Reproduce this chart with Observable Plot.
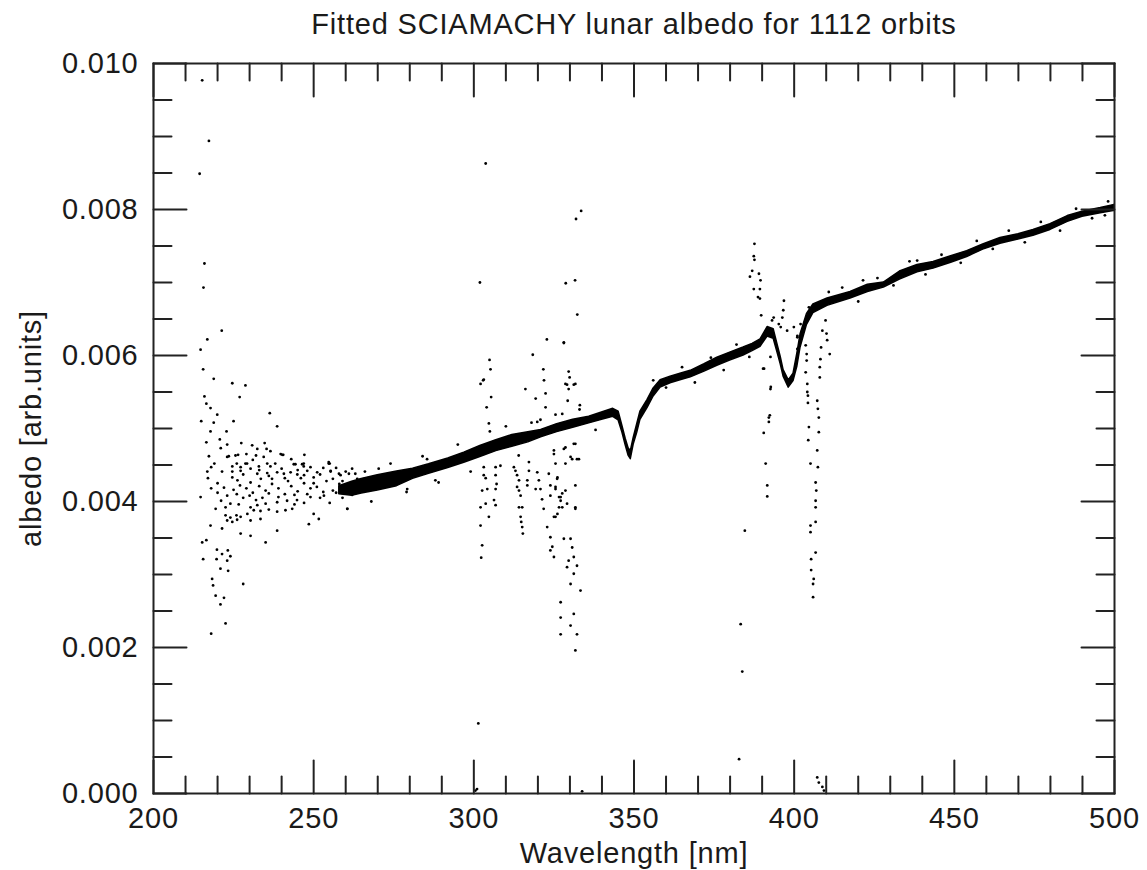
<!DOCTYPE html>
<html><head><meta charset="utf-8">
<script src="https://cdn.jsdelivr.net/npm/d3@7"></script>
<script src="https://cdn.jsdelivr.net/npm/@observablehq/plot@0.6"></script>
<style>body{margin:0;background:#fff} svg{display:block}</style>
</head><body><div id="chart"></div>
<script>
const titleText = "Fitted SCIAMACHY lunar albedo for 1112 orbits";
const xLabel = "Wavelength [nm]";
const yLabel = "albedo [arb.units]";
const xMajorTicks = [200,250,300,350,400,450,500];
const xMinorTicks = [210,220,230,240,260,270,280,290,310,320,330,340,360,370,380,390,410,420,430,440,460,470,480,490];
const yMajorTicks = [0,0.002,0.004,0.006,0.008,0.010];
const yMinorTicks = [0.0005,0.001,0.0015,0.0025,0.003,0.0035,0.0045,0.005,0.0055,0.0065,0.007,0.0075,0.0085,0.009,0.0095];

// dense band of fitted albedo: wavelength, lower edge, upper edge
const bandNm = [258,262,265,270,276,281,286,292,297,302,307,312,317,321,326,331,336,340,343.5,345.2,346.4,347.4,348.3,349.0,349.9,351,352,354.2,356,358.3,361.4,364.5,367.7,372,376,380,384.2,387,389.5,391.7,393.6,394.8,395.8,396.7,398.3,399.8,401,402,404,406,410.4,417.6,423,428,433,438.5,443.5,449,454,459,464.4,470,474.7,480,485.4,490,495.7,499.7,500];
const bandLo = [0.00410,0.00408,0.00411,0.00415,0.00421,0.00431,0.00438,0.00446,0.00453,0.00461,0.00469,0.00475,0.00481,0.00488,0.00495,0.00501,0.00507,0.00512,0.00516,0.00511,0.00494,0.00477,0.00463,0.00458,0.00478,0.00494,0.00512,0.00528,0.00543,0.00556,0.00562,0.00566,0.00570,0.00578,0.00586,0.00593,0.00600,0.00606,0.00612,0.00626,0.00623,0.00604,0.00588,0.00571,0.00556,0.00565,0.00585,0.00611,0.00642,0.00658,0.00668,0.00678,0.00687,0.00693,0.00704,0.00714,0.00719,0.00727,0.00735,0.00745,0.00753,0.00759,0.00764,0.00772,0.00783,0.00790,0.00795,0.00798,0.00798];
const bandHi = [0.00421,0.00427,0.00431,0.00436,0.00441,0.00445,0.00451,0.00459,0.00467,0.00476,0.00484,0.00491,0.00495,0.00498,0.00506,0.00512,0.00516,0.00522,0.00527,0.00523,0.00503,0.00486,0.00473,0.00469,0.00487,0.00506,0.00523,0.00539,0.00554,0.00566,0.00571,0.00575,0.00579,0.00588,0.00597,0.00604,0.00611,0.00616,0.00622,0.00639,0.00636,0.00615,0.00598,0.00580,0.00566,0.00575,0.00603,0.00629,0.00657,0.00670,0.00678,0.00687,0.00697,0.00700,0.00715,0.00724,0.00728,0.00736,0.00743,0.00752,0.00761,0.00766,0.00772,0.00780,0.00791,0.00797,0.00802,0.00806,0.00806];

// scattered orbit points [wavelength nm, albedo]
const leftOutliers = [[215.2,0.00977],[217.3,0.00894],[214.4,0.00849],[215.9,0.00726],[215.6,0.00693]];
const leftCloudUpper = [[221.3,0.00634],[216.8,0.00622],[214.7,0.00608],[215.5,0.00581],[218.8,0.00568],[224.6,0.00562],[228.7,0.00559],[226.9,0.00543],[215.9,0.00544],[216.5,0.00534],[217.8,0.00528],[219.9,0.00519],[214.9,0.0051],[218.8,0.00508],[225.0,0.0051],[236.3,0.00521],[217.8,0.00496],[222.8,0.00496],[238.6,0.00503],[220.7,0.00485],[216.5,0.00481],[227.4,0.0048],[230.8,0.00477],[234.7,0.0048],[235.3,0.00472],[236.5,0.00469],[240.5,0.00464],[247.1,0.00464],[217.3,0.00462],[223.5,0.00462],[234.4,0.00461],[229.2,0.00452],[224.6,0.00448],[227.2,0.00447],[228.7,0.00452],[232.9,0.00448],[235.5,0.00452],[236.5,0.00448],[244.3,0.00451],[246.9,0.00452],[246.9,0.00448],[255.0,0.00452],[218.0,0.00447],[216.8,0.00441],[221.4,0.00441],[224.6,0.00441],[227.2,0.00442],[230.3,0.00445],[232.4,0.00438],[235.5,0.00439],[238.6,0.0044],[240.7,0.00438],[242.8,0.0044],[244.9,0.00437],[248.0,0.00442],[251.1,0.0044],[255.3,0.00442],[258.4,0.00436],[224.6,0.00433],[226.2,0.00429],[230.3,0.00426],[233.5,0.00431],[223.0,0.00461],[225.6,0.00463],[226.4,0.00464],[232.4,0.00472],[240.2,0.00464],[254.7,0.00454],[257.9,0.00438],[270.3,0.00445]];
const leftCloudMiddle = [[229,0.00418],[231,0.00412],[233,0.00421],[235,0.00415],[237,0.00424],[239,0.00418],[241,0.0041],[243,0.00421],[245,0.00414],[247,0.00425],[249,0.00418],[251,0.0042],[253,0.00413],[227,0.00422],[225,0.00416],[222,0.00419],[220,0.00425],[237,0.00431],[242,0.00428],[246,0.00432],[250,0.00433],[252,0.00405],[256,0.00415],[258,0.00424],[239,0.00406],[234,0.00405],[230,0.00408],[244,0.00396],[247,0.00398],
  [226,0.00452],[228,0.00437],[231,0.00457],[233,0.00443],[236,0.00435],[238,0.00452],[240,0.00445],[241,0.00432],[243,0.00458],[245,0.00443],[247,0.00436],[249,0.00447],[250,0.00425],[252,0.00437],[253,0.00446],[254,0.00428],[256,0.00431],[257,0.00446],[259,0.00428],[260,0.00441],[261,0.00421],[263,0.00438],[264,0.00418],[266,0.00441],[267,0.00426],[269,0.00433],[259,0.00405],[262,0.00409],[255,0.00398],[257,0.00412],[244,0.00409],[248,0.0041],[236,0.00411],[232,0.00402],[228,0.00405],[226,0.0041],[223,0.00408],[220,0.00412],[218,0.00418],[217,0.00432],[219,0.00452],[221,0.00473],[223,0.00478],[229,0.00465],[232,0.00463]];
const leftCloudLower = [[214.7,0.00406],[221.1,0.00401],[224.0,0.00397],[226.6,0.00396],[219.4,0.0039],[222.5,0.00392],[230.3,0.00392],[232.4,0.00395],[235.0,0.00397],[238.6,0.00399],[241.7,0.00401],[244.8,0.00402],[249.0,0.00406],[253.2,0.00408],[260.5,0.0039],[222.5,0.00381],[224.0,0.00378],[225.9,0.00381],[227.2,0.00379],[229.3,0.00383],[231.3,0.00388],[233.4,0.00387],[236.0,0.00389],[238.6,0.00386],[241.2,0.00388],[243.3,0.0039],[223.0,0.00374],[224.6,0.00372],[226.1,0.00375],[230.3,0.00374],[233.4,0.00376],[217.8,0.00367],[221.4,0.00363],[227.2,0.00356],[230.3,0.00353],[238.6,0.0036],[235.0,0.00344],[215.2,0.00344],[216.5,0.00347],[219.8,0.00334],[221.4,0.00328],[223.2,0.00333],[224.0,0.00325],[219.7,0.00321],[215.5,0.00321],[223.0,0.00319],[220.9,0.00308],[223.3,0.00305],[218.3,0.00294],[218.6,0.00285],[228.0,0.00287],[219.4,0.00271],[222.0,0.00268],[220.9,0.00259],[222.5,0.00233],[218.0,0.00219],[251.6,0.00376],[248.5,0.00369],[250.0,0.00383]];
const bandNoiseLeft = [[239.7,0.00465],[246.4,0.00451],[243.8,0.00451],[254.7,0.00452],[255.3,0.00441],[261.0,0.00438],[263.6,0.00431],[285.4,0.00458],[288.0,0.00429],[260.5,0.0039],[279.2,0.00417],[262,0.00445],[268,0.00400],[274,0.00452],[279,0.00413],[284,0.00462],[289,0.00426],[295,0.00478],[299,0.00441],[310,0.00503],[314,0.00463],[318,0.00508],[333,0.00526],[338,0.00498]];
const spike303 = [[303.7,0.00863],[301.9,0.007],[304.9,0.00594],[305.2,0.00581],[302.1,0.00561],[303.1,0.00567],[305.4,0.00543],[304.0,0.00529],[304.7,0.00507],[305.0,0.00496],[302.9,0.00566],[303.1,0.00447],[306.8,0.00447],[308.3,0.00449],[303.1,0.00436],[303.7,0.00432],[306.8,0.00436],[307.1,0.00424],[306.8,0.00417],[302.6,0.00415],[304.2,0.00417],[303.7,0.00397],[306.3,0.00402],[306.8,0.00395],[302.1,0.00392],[304.7,0.00379],[302.1,0.00367],[302.6,0.0034],[302.3,0.00323],[301.4,0.00096],[300.5,0.00004],[301.0,0.00006],[333.8,0.00003]];
const spikes320Up = [[316.1,0.00554],[333.5,0.00798],[331.9,0.00787],[328.7,0.00699],[331.6,0.00703],[332.3,0.00656],[322.8,0.00622],[328.1,0.00617],[318.4,0.00601],[321.7,0.00581],[321.9,0.00566],[322.4,0.00548],[319.3,0.00541],[322.4,0.00529],[329.6,0.00578],[329.9,0.0057],[329.1,0.0056],[331.2,0.0056],[329.3,0.00538],[333.1,0.00532],[327.6,0.0052],[325.5,0.00519],[319.8,0.00509],[320.8,0.00512],[328.1,0.00618],[328.6,0.00561],[331.7,0.00561],[329.6,0.00554]];
const spikes320Down = [[312.5,0.00447],[313.0,0.00442],[313.5,0.00436],[314.1,0.00429],[313.5,0.0042],[314.1,0.00415],[314.6,0.00408],[314.1,0.00392],[315.1,0.00392],[314.6,0.00379],[314.8,0.00372],[315.1,0.00365],[315.3,0.00356],[317.2,0.00454],[317.2,0.00442],[316.7,0.00429],[316.7,0.00422],[319.8,0.0044],[320.3,0.00429],[319.3,0.00417],[320.8,0.00417],[321.3,0.00403],[321.8,0.0039],[323.9,0.00408],[323.4,0.00438],[323.9,0.00422],[322.9,0.00365],[323.9,0.00351],[324.5,0.00338],[325.0,0.00324],[323.9,0.00333],[325.0,0.0047],[325.5,0.00452],[326.0,0.00431],[325.5,0.00417],[326.6,0.00406],[327.1,0.00401],[326.6,0.00392],[325.5,0.00379],[328.1,0.00472],[328.6,0.00452],[328.6,0.00415],[327.6,0.00411],[329.1,0.00397],[330.7,0.00458],[332.2,0.00458],[331.7,0.00422],[331.7,0.00392],[331.2,0.00479],[328.1,0.00349],[330.2,0.00349],[330.7,0.00337],[329.6,0.00319],[331.2,0.00324],[329.1,0.0031],[332.2,0.00312],[331.2,0.00301],[330.2,0.00287],[333.3,0.00278],[327.1,0.00262],[327.1,0.00241],[330.2,0.0023],[331.2,0.00246],[327.1,0.00218],[332.2,0.00218],[331.7,0.00196],[325.0,0.00465],[328.6,0.00474],[331.7,0.00479],[330.2,0.00461],[332.8,0.00458],[326.1,0.00433],[325.5,0.0042],[327.1,0.00406],[327.6,0.00392],[326.1,0.00383],[325.0,0.00379],[331.7,0.0039]];
const spikes390Up = [[387.6,0.00753],[387.4,0.00736],[387.6,0.00731],[386.9,0.00716],[386.2,0.00708],[389.0,0.00712],[389.5,0.00703],[387.4,0.00691],[389.3,0.00691],[388.7,0.0068],[389.3,0.00678],[389.7,0.00655],[393.1,0.00648],[393.6,0.00652],[396.8,0.00675],[396.6,0.00662],[396.3,0.00652],[395.2,0.00643],[395.8,0.00639],[397.8,0.00634],[399.9,0.00639],[402.0,0.00643],[402.5,0.00634],[401.0,0.00625],[404.1,0.00652],[405.1,0.00657],[404.6,0.00666],[410.8,0.00687]];
const spike391Down = [[392.6,0.00598],[390.3,0.00582],[392.6,0.00554],[392.4,0.00518],[392.1,0.00509],[390.5,0.00494],[391.1,0.00452],[391.6,0.00422],[391.6,0.00407],[384.6,0.0036],[383.3,0.00232],[383.8,0.00167],[382.8,0.00047],[392.7,0.00557],[392.1,0.00515],[390.6,0.00582]];
const spike406Down = [[401.0,0.00627],[401.0,0.00609],[401.0,0.00598],[403.6,0.00614],[403.9,0.00602],[403.9,0.00593],[403.6,0.00577],[404.1,0.00561],[404.1,0.0055],[404.3,0.00545],[404.3,0.00535],[404.6,0.00502],[404.4,0.00484],[405.1,0.00452],[407.2,0.00538],[407.4,0.00527],[407.7,0.00515],[407.7,0.00495],[407.2,0.0047],[407.4,0.00447],[406.7,0.00426],[406.9,0.00415],[406.7,0.00401],[406.7,0.00392],[406.7,0.00372],[405.1,0.00367],[405.1,0.00358],[406.7,0.0033],[405.3,0.00321],[405.3,0.00306],[406.1,0.00294],[405.9,0.00287],[405.9,0.00269],[408.4,0.00611],[408.2,0.00595],[408.0,0.00584],[408.0,0.0057],[408.8,0.00634],[409.8,0.00648],[410.3,0.00621],[411.1,0.00602],[410.1,0.0063],[407.2,0.00022],[407.7,0.00015],[408.8,0.00009],[409.3,0.00004]];
const bandNoiseRight = [[356,0.00566],[360,0.00556],[365,0.00584],[369,0.00563],[374,0.00597],[378,0.0058],[382,0.00615],[386,0.00598],[415,0.00693],[420,0.00674],[426,0.00706],[431,0.00696],[436,0.00729],[441,0.00711],[446,0.00738],[452,0.00727],[457,0.00757],[462,0.00746],[467,0.00771],[472,0.00755],[477,0.00783],[483,0.00771],[488,0.00801],[493,0.00788],[498,0.00811],[497,0.00792],[438.4,0.0073],[421.5,0.00703]];

const bandRows = bandNm.map((nm, i) => ({nm, lo: bandLo[i], hi: bandHi[i]}));
const points = [].concat(leftOutliers, leftCloudUpper, leftCloudMiddle, leftCloudLower, bandNoiseLeft,
  spike303, spikes320Up, spikes320Down, spikes390Up, spike391Down, spike406Down, bandNoiseRight);

const ink = "#1a1a1a";
const tickShape = {draw(context, l) { context.moveTo(0, 0); context.lineTo(0, -l); }};
const tickStyle = {stroke: "#222", strokeWidth: 2, shape: tickShape, anchor: "start"};
function ticksX(values, len) {
  return [
    Plot.vector(values, {x: d => d, frameAnchor: "bottom", length: len, rotate: 0, ...tickStyle}),
    Plot.vector(values, {x: d => d, frameAnchor: "top", length: len, rotate: 180, ...tickStyle})
  ];
}
function ticksY(values, len) {
  return [
    Plot.vector(values, {y: d => d, frameAnchor: "left", length: len, rotate: 90, ...tickStyle}),
    Plot.vector(values, {y: d => d, frameAnchor: "right", length: len, rotate: -90, ...tickStyle})
  ];
}
const labelStyle = {text: d => d, fontSize: 29, fill: ink, textAnchor: "middle", lineAnchor: "middle"};

const chart = Plot.plot({
  width: 1147,
  height: 870,
  marginLeft: 153,
  marginRight: 33,
  marginTop: 63,
  marginBottom: 77,
  style: {fontFamily: "'Liberation Sans', Arial, Helvetica, sans-serif", fontSize: "29px", letterSpacing: "0.8px", background: "#fff", color: ink, overflow: "visible"},
  x: {domain: [200, 500]},
  y: {domain: [0, 0.010]},
  marks: [
    Plot.areaY(bandRows, {x: "nm", y1: "lo", y2: "hi", fill: "black", stroke: "black", strokeWidth: 1.5}),
    Plot.dot(points, {x: d => d[0], y: d => d[1], r: 1.4, fill: "black", stroke: "none"}),
    ...ticksX(xMajorTicks, 33),
    ...ticksX(xMinorTicks, 17),
    ...ticksY(yMajorTicks, 33),
    ...ticksY(yMinorTicks, 18),
    Plot.frame({stroke: "#222", strokeWidth: 2}),
    Plot.axisX({ticks: xMajorTicks, tickSize: 0, tickPadding: 14, tickFormat: d => String(d), label: null, fill: ink, fontSize: 29}),
    Plot.axisY({ticks: yMajorTicks, tickSize: 0, tickPadding: 15, tickFormat: d3.format(".3f"), label: null, fill: ink, fontSize: 29}),
    Plot.text([titleText], {frameAnchor: "top", dy: -39, ...labelStyle}),
    Plot.text([xLabel], {frameAnchor: "bottom", dy: 60, ...labelStyle}),
    Plot.text([yLabel], {frameAnchor: "left", dx: -122, rotate: -90, ...labelStyle})
  ]
});
document.getElementById("chart").appendChild(chart);
</script>
</body></html>
